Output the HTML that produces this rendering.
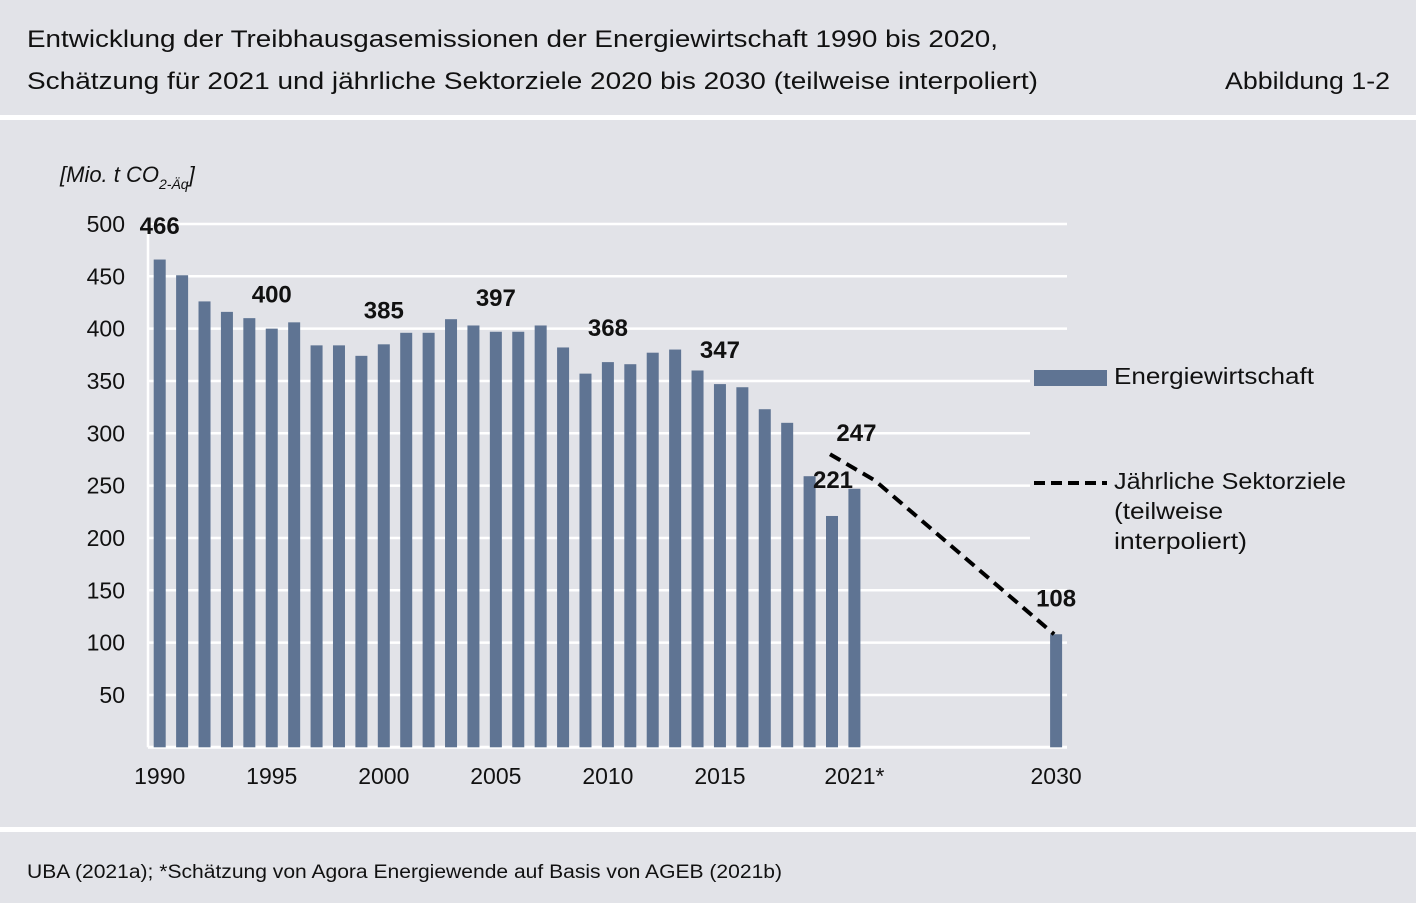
<!DOCTYPE html>
<html><head><meta charset="utf-8"><style>
html,body{margin:0;padding:0;background:#fff;}
svg{display:block;font-family:"Liberation Sans",sans-serif;}
</style></head><body>
<svg id="c" width="1416" height="903" viewBox="0 0 1416 903">
<rect x="0" y="0" width="1416" height="115" fill="#e2e3e8"/>
<rect x="0" y="120" width="1416" height="707" fill="#e2e3e8"/>
<rect x="0" y="832" width="1416" height="71" fill="#e2e3e8"/>
<text x="27" y="47" font-size="24" fill="#111" textLength="971" lengthAdjust="spacingAndGlyphs">Entwicklung der Treibhausgasemissionen der Energiewirtschaft 1990 bis 2020,</text>
<text x="27" y="89" font-size="24" fill="#111" textLength="1011" lengthAdjust="spacingAndGlyphs">Schätzung für 2021 und jährliche Sektorziele 2020 bis 2030 (teilweise interpoliert)</text>
<text x="1390" y="89" font-size="24" fill="#111" text-anchor="end" textLength="165" lengthAdjust="spacingAndGlyphs">Abbildung 1-2</text>
<text x="60" y="182" font-size="22" font-style="italic" fill="#111">[Mio. t CO<tspan font-size="14" dy="7">2-Äq</tspan><tspan dy="-7">]</tspan></text>
<g id="grid"></g>
<g id="bars"></g>
<g id="labels"></g>
<path id="target" fill="none" stroke="#000" stroke-width="4" stroke-dasharray="12,7"/>
<rect x="1030" y="360" width="330" height="200" fill="#e2e3e8"/>
<rect x="1034" y="370" width="73" height="16" fill="#5f7493"/>
<text x="1114" y="384" font-size="23" fill="#111" textLength="200" lengthAdjust="spacingAndGlyphs">Energiewirtschaft</text>
<line x1="1034" y1="483" x2="1107" y2="483" stroke="#000" stroke-width="4" stroke-dasharray="11,6"/>
<text font-size="23" fill="#111"><tspan x="1114" y="489" textLength="232" lengthAdjust="spacingAndGlyphs">Jährliche Sektorziele</tspan><tspan x="1114" y="519" textLength="109" lengthAdjust="spacingAndGlyphs">(teilweise</tspan><tspan x="1114" y="549" textLength="133" lengthAdjust="spacingAndGlyphs">interpoliert)</tspan></text>
<text x="27" y="878" font-size="19" fill="#111" textLength="755" lengthAdjust="spacingAndGlyphs">UBA (2021a); *Schätzung von Agora Energiewende auf Basis von AGEB (2021b)</text>
</svg>
<script>
const years=[1990,1991,1992,1993,1994,1995,1996,1997,1998,1999,2000,2001,2002,2003,2004,2005,2006,2007,2008,2009,2010,2011,2012,2013,2014,2015,2016,2017,2018,2019,2020,2021,2030];
const values=[466,451,426,416,410,400,406,384,384,374,385,396,396,409,403,397,397,403,382,357,368,366,377,380,360,347,344,323,310,259,221,247,108];
const targetYears=[2020,2022,2030];
const targetValues=[280,255,108];
const yTicks=[50,100,150,200,250,300,350,400,450,500];
const xTickYears=[1990,1995,2000,2005,2010,2015,2021,2030];
const xTickLabels=["1990","1995","2000","2005","2010","2015","2021*","2030"];
const labelYears=[1990,1995,2000,2005,2010,2015,2020,2021,2030];
const NS="http://www.w3.org/2000/svg";
function X(yr){return 159.7+(yr-1990)*22.41;}
function Y(v){return 747.3-v*1.0467;}
function el(tag,attrs,parent){const e=document.createElementNS(NS,tag);for(const k in attrs)e.setAttribute(k,attrs[k]);parent.appendChild(e);return e;}
const grid=document.getElementById('grid');
yTicks.forEach(v=>{
 const l=el('line',{x1:148,x2:1067,y1:Y(v),y2:Y(v),stroke:'#fff','stroke-width':2.5},grid);
 
 
 const t=el('text',{x:125,y:Y(v)+8,'font-size':23,fill:'#111','text-anchor':'end'},grid);
 t.textContent=v;
 
 
});
const ax=el('line',{x1:148,x2:148,y1:Y(500),y2:747.3,stroke:'#fff','stroke-width':2.5},grid);


const bx=el('line',{x1:148,x2:1067,y1:747.3,y2:747.3,stroke:'#fff','stroke-width':3},grid);


xTickYears.forEach((yr,i)=>{
 const t=el('text',{x:X(yr),y:784,'font-size':23,fill:'#111','text-anchor':'middle'},grid);
 t.textContent=xTickLabels[i];
 
 
});
const bars=document.getElementById('bars');
years.forEach((yr,i)=>{
 const r=el('rect',{x:X(yr)-6,y:Y(values[i]),width:12,height:747.3-Y(values[i]),fill:'#5f7493'},bars);
 
 
});
const labels=document.getElementById('labels');
labelYears.forEach(yr=>{
 const i=years.indexOf(yr);const v=values[i];
 let x=X(yr),y=Y(v)-26;
 if(yr===1990){y=Y(500)+10;}
 if(yr===2020){y=Y(v)-28;x=X(yr)+1;}
 if(yr===2021){y=Y(targetValues[0])-13;x=X(yr)+2;}
 if(yr===2030){y=Y(v)-28;}
 const t=el('text',{x:x,y:y,'font-size':24,'font-weight':'bold',fill:'#111','text-anchor':'middle'},labels);
 t.textContent=v;
 
 
});
document.getElementById('target').setAttribute('d',targetYears.map((yr,i)=>(i?'L':'M')+(X(yr)-2)+','+Y(targetValues[i])).join(' '));
</script>
</body></html>
